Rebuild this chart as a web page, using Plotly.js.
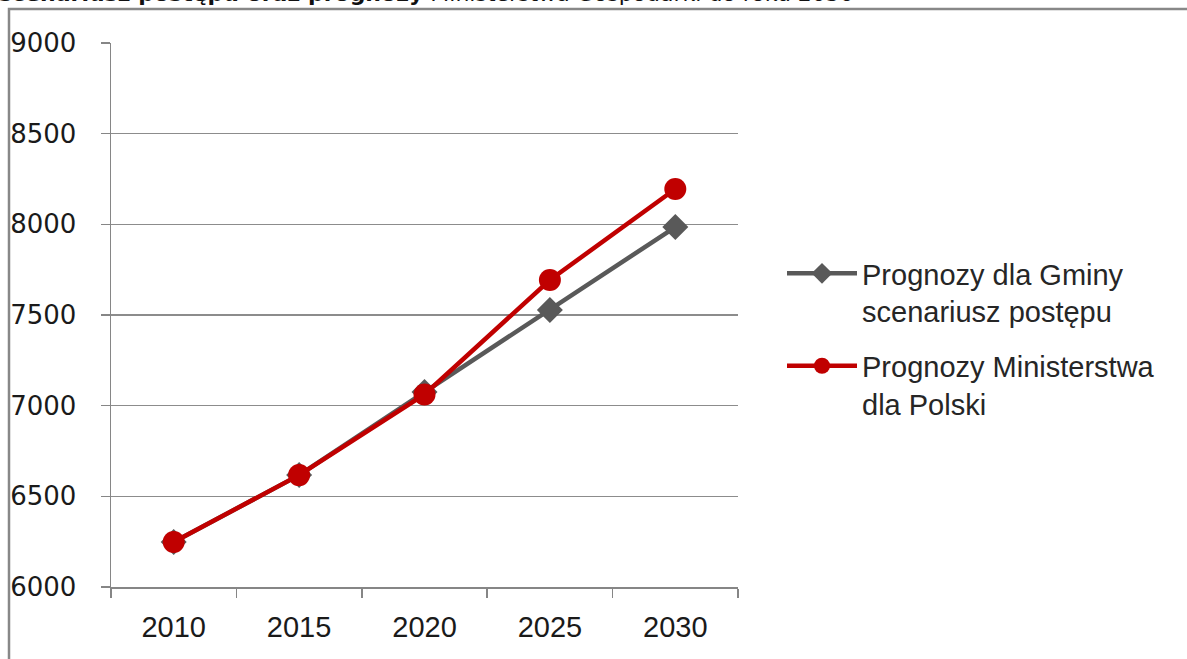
<!DOCTYPE html>
<html>
<head>
<meta charset="utf-8">
<script src="https://cdn.plot.ly/plotly-3.0.1.min.js"></script>
<style>html,body{margin:0;padding:0;background:#fff;}#chart{width:1187px;height:659px;}</style>
</head>
<body>
<div id="chart"></div>
<script>
var years = ["2010", "2015", "2020", "2025", "2030"];
var gminaValues = [6248, 6617, 7075, 7527, 7985];
var ministerstwoValues = [6248, 6617, 7062, 7693, 8195];
var seriesNames = ["Prognozy dla Gminy<br>scenariusz postępu", "Prognozy Ministerstwa<br>dla Polski"];
var titleText = "<b>scenariusz postępu oraz prognozy</b> Ministerstwa Gospodarki do roku 2030";

var W = 1187, H = 659;
var L = 111, R = 738, T = 43, B = 587;
var pw = R - L, ph = B - T;
function px2x(p){ return (p - L) / pw; }
function py2y(p){ return (B - p) / ph; }

var traces = [
  {
    x: years, y: gminaValues, name: seriesNames[0], type: "scatter", mode: "lines+markers",
    legendgroup: "g1",
    line: {color: "#595959", width: 4.5},
    marker: {symbol: "diamond", size: 20, color: "#595959"},
    cliponaxis: false
  },
  {
    x: years, y: ministerstwoValues, name: seriesNames[1], type: "scatter", mode: "lines+markers",
    legendgroup: "g2",
    line: {color: "#C00000", width: 4.5},
    marker: {symbol: "circle", size: 22, color: "#C00000"},
    cliponaxis: false
  }
];

var layout = {
  width: W, height: H,
  margin: {l: L, r: W - R, t: T, b: H - B, pad: 0},
  paper_bgcolor: "#ffffff", plot_bgcolor: "#ffffff",
  showlegend: true,
  legend: {
    x: px2x(782), y: py2y(248), xanchor: "left", yanchor: "top",
    font: {family: "Liberation Sans, Arial, sans-serif", size: 29, color: "#262626"},
    valign: "top", itemwidth: 70, tracegroupgap: 14, bgcolor: "rgba(0,0,0,0)"
  },
  xaxis: {
    type: "category", range: [-0.5, 4.5], tickson: "boundaries",
    showgrid: false, showline: true, linecolor: "#868686", linewidth: 1.5,
    ticks: "outside", ticklen: 9, tickcolor: "#868686", tickwidth: 1.5,
    tickfont: {family: "Liberation Sans, Arial, sans-serif", size: 29, color: "#1a1a1a"},
    ticklabelstandoff: 14, zeroline: false
  },
  yaxis: {
    range: [6000, 9000], dtick: 500, tick0: 6000,
    showgrid: true, gridcolor: "#8c8c8c", gridwidth: 1.5,
    showline: true, linecolor: "#868686", linewidth: 1.5,
    ticks: "outside", ticklen: 9, tickcolor: "#868686", tickwidth: 1.5,
    tickfont: {family: "DejaVu Sans, Verdana, sans-serif", size: 26, color: "#1a1a1a"},
    ticklabelstandoff: 19, zeroline: false
  },
  shapes: [
    {type: "rect", xref: "paper", yref: "paper",
     x0: px2x(9), x1: px2x(W + 20), y0: py2y(H + 20), y1: py2y(9),
     line: {color: "#888888", width: 2.5}, fillcolor: "rgba(0,0,0,0)", layer: "below"}
  ],
  annotations: [
    {xref: "paper", yref: "paper", x: px2x(-3), y: py2y(-7), xanchor: "left", yanchor: "middle",
     text: titleText, showarrow: false,
     font: {family: "DejaVu Sans, Verdana, sans-serif", size: 22, color: "#111111"}}
  ]
};

Plotly.newPlot("chart", traces, layout, {displayModeBar: false, staticPlot: true});
</script>
</body>
</html>
